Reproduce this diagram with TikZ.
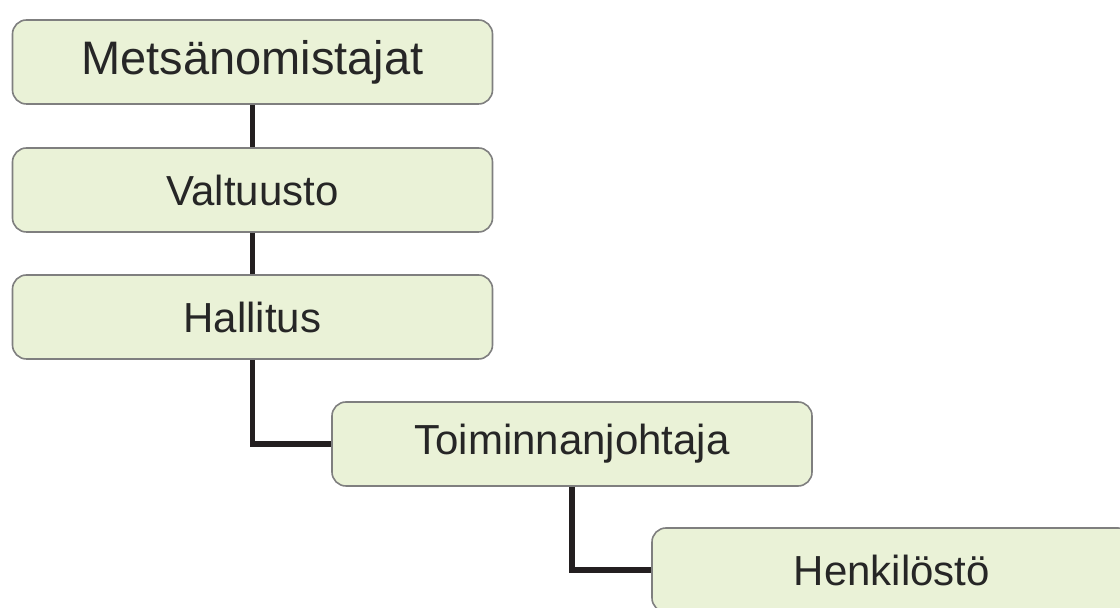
\documentclass[tikz,border=0pt]{standalone}
\usepackage{fontspec}
\setmainfont{Liberation Sans}
\usetikzlibrary{calc}

\definecolor{boxfill}{HTML}{EAF2D7}
\definecolor{boxline}{HTML}{7F7F7F}
\definecolor{linkline}{HTML}{231F20}

\begin{document}
\begin{tikzpicture}[x=0.5pt,y=-0.5pt,
        orgbox/.style={draw=boxline, line width=0.8pt, fill=boxfill, rounded corners=7pt,
            minimum width=240pt, minimum height=42pt, inner sep=0pt,
            text=black!85, font=\fontsize{21}{25}\selectfont},
        orglink/.style={draw=linkline, line width=2.8pt}]
            \clip (0,0) rectangle (1120,608);
            \useasboundingbox (0,0) rectangle (1120,608);

            \node[orgbox, font=\fontsize{23.5}{28}\selectfont] (owners) at (252.5,62) {Metsänomistajat};
            \node[orgbox] (council) at (252.5,190) {Valtuusto};
            \node[orgbox] (board) at (252.5,317) {Hallitus};
            \node[orgbox] (director) at (572,444) {Toiminnanjohtaja};
            \node[orgbox] (staff) at (892,570) {Henkilöstö};

            \draw[orglink] (owners) -- (council);
            \draw[orglink] (council) -- (board);
            \draw[orglink] (board.south) |- (director.west);
            \draw[orglink] (director.south) |- (staff.west);
        \end{tikzpicture}
\end{document}
